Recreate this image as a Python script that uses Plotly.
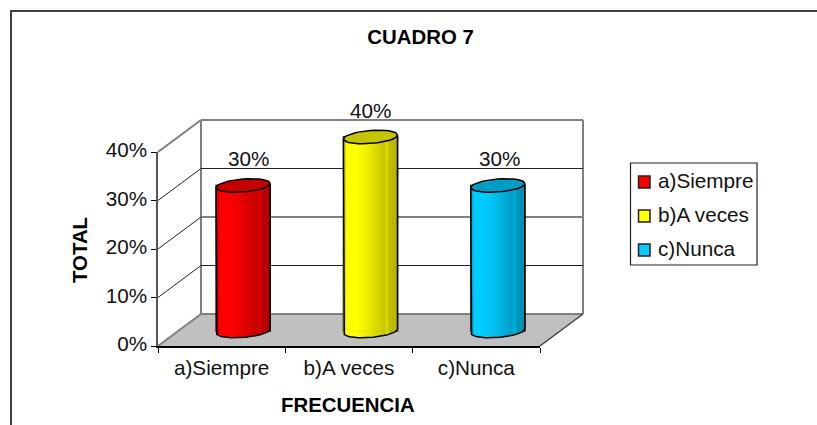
import math
import plotly.graph_objects as go

# ---- data ----
categories = ["a)Siempre", "b)A veces", "c)Nunca"]
values = [30, 40, 30]
value_labels = ["30%", "40%", "30%"]
colors = [(255, 0, 0), (255, 255, 0), (0, 204, 255)]
y_ticks = [0, 10, 20, 30, 40]
y_tick_labels = ["0%", "10%", "20%", "30%", "40%"]
title_text = "CUADRO 7"
x_title = "FRECUENCIA"
y_title = "TOTAL"
label_shift_x = [5, 0, 2]
# brightness of the cylinder wall, left to right
shade = [0.88, 1, 1, 1.0, 1.0, 0.98, 0.96, 0.94, 0.92, 0.89, 0.86, 0.84, 0.81, 0.78, 0.84, 0.75, 0.72, 0.70]
top_shade = 0.77

# ---- geometry (pixels) ----
W, H = 817, 425
PLOT_W, PLOT_H = 382, 194
FRONT = (158, 346)
BACK = (201, 314)
MID = (179.5, 331)
PX_X = PLOT_W / 3
PX_Y = PLOT_H / 40
CYL_R = 27
CYL_B = 6.5
CYL_TILT = 2
MID_PAD = 10  # % of head room around the bar plane, so rims are not clipped
FONT = "Liberation Sans, Arial, sans-serif"
FS = 20.7
FSB = 20.4
PI = math.pi


def rgb(c, k=1.0):
    return "rgb(%d,%d,%d)" % tuple(min(255, round(v * k)) for v in c)


def dom(o, pad=0.0):
    return dict(
        x=[o[0] / W, (o[0] + PLOT_W) / W],
        y=[(H - o[1] - pad * PX_Y) / H, (H - o[1] + PLOT_H + pad * PX_Y) / H],
    )


def ellipse_pts(i, v, t0, t1, n=40):
    """Points on a tilted cylinder rim, in data units of the bar plane."""
    xs, ys = [], []
    for k in range(n + 1):
        t = t0 + (t1 - t0) * k / n
        xs.append(i + CYL_R * math.cos(t) / PX_X)
        ys.append(v + (CYL_TILT * math.cos(t) + CYL_B * math.sin(t)) / PX_Y)
    return xs, ys


def rim_y(off_px, sign):
    u = max(-1, min(1, off_px / CYL_R))
    return (CYL_TILT * u + sign * CYL_B * math.sqrt(1 - u * u)) / PX_Y


fig = go.Figure()

# invisible trace that keeps the front axes drawn
fig.add_trace(go.Scatter(x=[0, 1, 2], y=values, mode="markers", marker=dict(opacity=0),
                         showlegend=False, hoverinfo="skip", xaxis="x", yaxis="y"))

# every cylinder: a real bar, wall strips, rim outlines
for i, (cat, v, c) in enumerate(zip(categories, values, colors)):
    fig.add_trace(go.Bar(
        x=[i], y=[v], width=[2 * CYL_R / PX_X], name=cat,
        marker=dict(color=rgb(c), line=dict(color="black", width=1.5)),
        xaxis="x3", yaxis="y3", showlegend=False, hoverinfo="skip",
    ))
    n = len(shade)
    sw = 2 * CYL_R / n
    offs = [-CYL_R + sw * (k + 0.5) for k in range(n)]
    bases = [rim_y(o, -1) for o in offs]
    tops = [v + (CYL_TILT * o / CYL_R) / PX_Y for o in offs]
    fig.add_trace(go.Bar(
        x=[i + o / PX_X for o in offs],
        base=bases,
        y=[t - b for t, b in zip(tops, bases)],
        width=[(sw + 0.4) / PX_X] * n,
        marker=dict(color=[rgb(c, s) for s in shade], line=dict(width=0)),
        xaxis="x3", yaxis="y3", showlegend=False, hoverinfo="skip",
    ))
    # top rim
    ex, ey = ellipse_pts(i, v, 0, 2 * PI)
    fig.add_trace(go.Scatter(
        x=ex, y=ey, mode="lines", fill="toself", fillcolor=rgb(c, top_shade),
        line=dict(color="black", width=1.5), xaxis="x3", yaxis="y3",
        showlegend=False, hoverinfo="skip",
    ))
    # outline: sides and bottom rim
    bx, by = ellipse_pts(i, 0, PI, 2 * PI)
    lx = [i - CYL_R / PX_X] + bx + [i + CYL_R / PX_X]
    ly = [v - CYL_TILT / PX_Y] + by + [v + CYL_TILT / PX_Y]
    fig.add_trace(go.Scatter(
        x=lx, y=ly, mode="lines", line=dict(color="black", width=1.5),
        xaxis="x3", yaxis="y3", showlegend=False, hoverinfo="skip",
    ))

annotations = [
    dict(x=i, y=v, xref="x3", yref="y3", text=t, showarrow=False, xshift=sx, yshift=27,
         xanchor="center", yanchor="middle", font=dict(family=FONT, size=FS, color="#111"))
    for i, (v, t, sx) in enumerate(zip(values, value_labels, label_shift_x))
]
# axis titles
annotations.append(dict(x=347.5 / W, y=1 - 405 / H, xref="paper", yref="paper",
                        text="<b>%s</b>" % x_title, showarrow=False, xanchor="center",
                        yanchor="middle", font=dict(family=FONT, size=FSB, color="black")))
annotations.append(dict(x=80 / W, y=1 - 250 / H, xref="paper", yref="paper",
                        text="<b>%s</b>" % y_title, showarrow=False, textangle=-90,
                        xanchor="center", yanchor="middle",
                        font=dict(family=FONT, size=FSB, color="black")))


# ---- box walls ----
def line(x0, y0, x1, y1, color="#808080", width=2):
    return dict(type="line", xref="paper", yref="paper", x0=x0 / W, x1=x1 / W,
                y0=1 - y0 / H, y1=1 - y1 / H, line=dict(color=color, width=width),
                layer="below")


def rect(x0, y0, x1, y1, fill, color="black", width=1):
    return dict(type="rect", xref="paper", yref="paper", x0=x0 / W, x1=x1 / W,
                y0=1 - y0 / H, y1=1 - y1 / H, fillcolor=fill,
                line=dict(color=color, width=width), layer="above")


fx, fy = FRONT
bx0, by0 = BACK
shapes = [
    dict(type="path", xref="paper", yref="paper", layer="below", line=dict(width=0),
         fillcolor="#C0C0C0",
         path="M%f,%f L%f,%f L%f,%f L%f,%f Z" % (
             fx / W, 1 - fy / H, (fx + PLOT_W) / W, 1 - fy / H,
             (bx0 + PLOT_W) / W, 1 - by0 / H, bx0 / W, 1 - by0 / H)),
    line(bx0, by0, bx0 + PLOT_W, by0),
    line(bx0, by0 - PLOT_H, bx0 + PLOT_W, by0 - PLOT_H),
    line(bx0, by0, bx0, by0 - PLOT_H),
    line(bx0 + PLOT_W, by0, bx0 + PLOT_W, by0 - PLOT_H),
    line(fx, fy, bx0, by0),
    line(fx, fy - PLOT_H, bx0, by0 - PLOT_H),
    line(fx + PLOT_W, fy, bx0 + PLOT_W, by0, color="#333", width=1.2),
    # outer frame
    line(11, 11, W, 11, color="#404040", width=2),
    line(11, 10, 11, H, color="#404040", width=2),
]
for t in y_ticks[1:-1]:
    dark = t != 20
    col, wd = ("#222", 1) if dark else ("#808080", 2)
    yb = by0 - t * PX_Y
    yf = fy - t * PX_Y
    shapes.append(line(bx0, yb, bx0 + PLOT_W, yb, color=col, width=wd))
    shapes.append(line(fx, yf, bx0, yb, color="#222", width=1))

# ---- legend box (swatch spacing of the original is tighter than a native legend allows) ----
LEG = (630.5, 163, 757, 265)
shapes.append(rect(*LEG, fill="white", color="#222", width=1.2))
for k, (cat, c) in enumerate(zip(categories, colors)):
    cy = 182 + k * 34
    shapes.append(rect(638.5, cy - 6, 650, cy + 6, rgb(c), color="#222", width=1.5))
    annotations.append(dict(x=655.5 / W, y=1 - (cy - 2) / H, xref="paper", yref="paper", text=cat,
                            showarrow=False, xanchor="left", yanchor="middle",
                            font=dict(family=FONT, size=FS, color="#111")))

common_hidden = dict(visible=False, fixedrange=True)
dm_f, dm_m = dom(FRONT), dom(MID, MID_PAD)

fig.update_layout(
    width=W, height=H, margin=dict(l=0, r=0, t=0, b=0),
    paper_bgcolor="white", plot_bgcolor="rgba(0,0,0,0)",
    barmode="overlay", showlegend=False,
    font=dict(family=FONT, size=FS, color="#111"),
    title=dict(text="<b>%s</b>" % title_text, x=420.5 / W, y=1 - 37 / H, xanchor="center",
               yanchor="middle", font=dict(family=FONT, size=FSB, color="black")),
    xaxis=dict(domain=dm_f["x"], range=[-0.5, 2.5], tickmode="array", tickvals=[0, 1, 2],
               ticktext=categories, ticks="", showgrid=False, zeroline=False, showline=True,
               linecolor="black", linewidth=1.5, anchor="y", fixedrange=True, automargin=False,
               ticklabelstandoff=2,
               minor=dict(tickmode="array", tickvals=[-0.5, 0.5, 1.5, 2.5], ticks="outside",
                          ticklen=5, tickwidth=1, tickcolor="black", showgrid=False),
               tickfont=dict(family=FONT, size=FS, color="#111")),
    yaxis=dict(domain=dm_f["y"], range=[0, 40], tickmode="array", tickvals=y_ticks,
               ticktext=y_tick_labels, showgrid=False, zeroline=False, showline=True,
               linecolor="#555", linewidth=1.5, ticks="outside", ticklen=5, tickwidth=1,
               tickcolor="black", anchor="x", fixedrange=True, ticklabelshift=-2, automargin=False,
               tickfont=dict(family=FONT, size=FS, color="#111")),
    xaxis3=dict(domain=dm_m["x"], range=[-0.5, 2.5], anchor="y3", **common_hidden),
    yaxis3=dict(domain=dm_m["y"], range=[-MID_PAD, 40 + MID_PAD], anchor="x3", **common_hidden),
    shapes=shapes,
    annotations=annotations,
)

fig.write_html("out.html", config=dict(displayModeBar=False),
               post_script="document.body.style.margin='0';")
